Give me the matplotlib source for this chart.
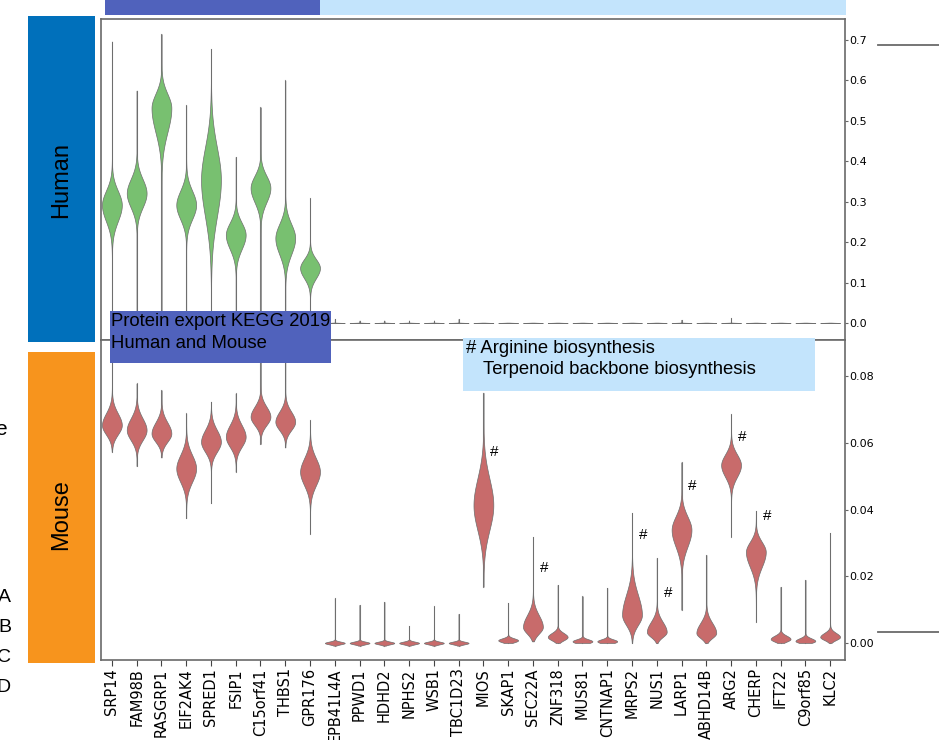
import numpy as np
import matplotlib
matplotlib.use("Agg")
import matplotlib.pyplot as plt
from matplotlib.patches import Rectangle

genes = ["SRP14", "FAM98B", "RASGRP1", "EIF2AK4", "SPRED1", "FSIP1", "C15orf41",
         "THBS1", "GPR176", "EPB41L4A", "PPWD1", "HDHD2", "NPHS2", "WSB1", "TBC1D23",
         "MIOS", "SKAP1", "SEC22A", "ZNF318", "MUS81", "CNTNAP1", "MRPS2", "NUS1",
         "LARP1", "ABHD14B", "ARG2", "CHERP", "IFT22", "C9orf85", "KLC2"]

# human violins: min, max, mode, spread below / above mode
h_lo = [0.0] * 30
h_hi = [0.696, 0.575, 0.715, 0.539, 0.678, 0.411, 0.534, 0.600, 0.309,
        0.010, 0.006, 0.006, 0.006, 0.006, 0.010, 0.001, 0.001, 0.001, 0.001,
        0.001, 0.001, 0.001, 0.001, 0.008, 0.001, 0.012, 0.001, 0.001, 0.001, 0.001]
h_peak = [0.292, 0.321, 0.532, 0.292, 0.354, 0.218, 0.334, 0.210, 0.136] + [0.0] * 21
h_slo = [0.040, 0.035, 0.060, 0.035, 0.090, 0.035, 0.035, 0.040, 0.025] + [0.0005] * 21
h_shi = [0.035, 0.035, 0.035, 0.035, 0.080, 0.030, 0.030, 0.035, 0.022] + [0.0005] * 21

# mouse violins
m_lo = [0.0573, 0.0530, 0.0556, 0.0374, 0.0419, 0.0513, 0.0596, 0.0586, 0.0327,
        -0.0008, -0.0008, -0.0008, -0.0008, -0.0008, -0.0008,
        0.0168, 0.0, 0.0005, 0.0, 0.0, 0.0, 0.0, 0.0, 0.0099, 0.0, 0.0318, 0.0063,
        0.0, 0.0, 0.0]
m_hi = [0.0880, 0.0778, 0.0758, 0.0688, 0.0723, 0.0748, 0.0860, 0.0860, 0.0668,
        0.0134, 0.0114, 0.0123, 0.0051, 0.0110, 0.0087,
        0.0750, 0.0120, 0.0318, 0.0174, 0.0140, 0.0165, 0.0390, 0.0255, 0.0542,
        0.0264, 0.0686, 0.0396, 0.0168, 0.0189, 0.0330]
m_peak = [0.0653, 0.0638, 0.0628, 0.0523, 0.0603, 0.0618, 0.0678, 0.0663, 0.0513,
          0.0, 0.0, 0.0, 0.0, 0.0, 0.0,
          0.0413, 0.0008, 0.0048, 0.0018, 0.0005, 0.0005, 0.0084, 0.0033, 0.0339,
          0.0030, 0.0533, 0.0273, 0.0012, 0.0006, 0.0018]
m_slo = [0.0028, 0.0030, 0.0025, 0.0040, 0.0030, 0.0030, 0.0025, 0.0025, 0.0040,
         0.0004, 0.0004, 0.0004, 0.0004, 0.0004, 0.0004,
         0.0075, 0.0006, 0.0020, 0.0010, 0.0006, 0.0006, 0.0030, 0.0015, 0.0050,
         0.0015, 0.0035, 0.0045, 0.0008, 0.0006, 0.0009]
m_shi = [0.0035, 0.0035, 0.0033, 0.0040, 0.0035, 0.0035, 0.0030, 0.0030, 0.0040,
         0.0004, 0.0004, 0.0004, 0.0004, 0.0004, 0.0004,
         0.0080, 0.0006, 0.0035, 0.0012, 0.0006, 0.0006, 0.0060, 0.0030, 0.0040,
         0.0030, 0.0032, 0.0030, 0.0010, 0.0008, 0.0012]

# genes marked with '#' and the height of the mark
hash_genes = ["MIOS", "SEC22A", "MRPS2", "NUS1", "LARP1", "ARG2", "CHERP"]
hash_y = [0.0572, 0.0225, 0.0324, 0.0150, 0.0470, 0.0617, 0.0380]

W, H = 939, 740
GREEN = "#78c070"
RED = "#c86b6b"
DARKBLUE = "#5062bc"
LIGHTBLUE = "#c3e4fc"
ANNOT_FONT = ["Liberation Sans", "DejaVu Sans"]


def fx(x):
    return x / W


def fy(y):
    return 1 - y / H


def box(fig, x0, y0, x1, y1, color):
    fig.add_artist(Rectangle((fx(x0), fy(y1)), fx(x1) - fx(x0), fy(y0) - fy(y1),
                             transform=fig.transFigure, facecolor=color,
                             edgecolor="none", zorder=2))


def draw_violin(ax, x, lo, hi, peak, s_lo, s_hi, color):
    ys = np.linspace(lo, hi, 400)
    s = np.where(ys < peak, s_lo, s_hi)
    w = np.exp(-0.5 * ((ys - peak) / s) ** 2)
    w = 0.4 * w / w.max()
    ax.plot([x, x], [lo, hi], color="#9a9a9a", lw=0.8, zorder=1)
    ax.fill_betweenx(ys, x - w, x + w, facecolor=color, edgecolor="#6e6e6e",
                     lw=0.5, zorder=2)


fig = plt.figure(figsize=(W / 100, H / 100), dpi=100)

ax_h = fig.add_axes([fx(101), fy(340), fx(845) - fx(101), fy(19) - fy(340)])
ax_m = fig.add_axes([fx(101), fy(660), fx(845) - fx(101), fy(340) - fy(660)], sharex=ax_h)

xs = np.arange(len(genes))
for i in xs:
    draw_violin(ax_h, i, h_lo[i], h_hi[i], h_peak[i], h_slo[i], h_shi[i], GREEN)
    draw_violin(ax_m, i, m_lo[i], m_hi[i], m_peak[i], m_slo[i], m_shi[i], RED)

for g, yv in zip(hash_genes, hash_y):
    ax_m.text(genes.index(g) + 0.45, yv, "#", fontsize=11, ha="center", va="center",
              family=ANNOT_FONT)

ax_h.set_xlim(-0.44, 29.6)
ax_h.set_ylim(-0.042, 0.752)
ax_m.set_ylim(-0.0051, 0.0908)

ax_h.set_yticks(np.arange(0, 0.71, 0.1))
ax_h.set_yticklabels([f"{v:.1f}" for v in np.arange(0, 0.71, 0.1)])
ax_m.set_yticks(np.arange(0, 0.081, 0.02))
ax_m.set_yticklabels([f"{v:.2f}" for v in np.arange(0, 0.081, 0.02)])

for ax in (ax_h, ax_m):
    ax.tick_params(axis="y", left=False, right=True, labelleft=False, labelright=True,
                   length=2, pad=1, labelsize=8, color="#666666")
    for sp in ax.spines.values():
        sp.set_color("#6a6a6a")
        sp.set_linewidth(1.2)

ax_h.tick_params(axis="x", bottom=False, labelbottom=False)
ax_m.set_xticks(xs)
ax_m.set_xticklabels(genes, rotation=90, fontsize=10.5)
ax_m.tick_params(axis="x", length=4, pad=2, color="#444444")

# species blocks on the left
box(fig, 28, 16, 95, 342, "#0070bb")
box(fig, 28, 352, 95, 663, "#f7941d")
fig.text(fx(61), fy(180), "Human", rotation=90, ha="center", va="center",
         fontsize=17, family=ANNOT_FONT, zorder=3)
fig.text(fx(61), fy(515), "Mouse", rotation=90, ha="center", va="center",
         fontsize=17, family=ANNOT_FONT, zorder=3)

# pathway annotation boxes
box(fig, 110, 311, 331, 363, DARKBLUE)
fig.text(fx(111), fy(322), "Protein export KEGG 2019", ha="left", va="center",
         fontsize=13.3, family=ANNOT_FONT, zorder=3)
fig.text(fx(111), fy(343), "Human and Mouse", ha="left", va="center",
         fontsize=13.3, family=ANNOT_FONT, zorder=3)

box(fig, 463, 338, 815, 391, LIGHTBLUE)
fig.text(fx(466), fy(348), "# Arginine biosynthesis", ha="left", va="center",
         fontsize=13.3, family=ANNOT_FONT, zorder=3)
fig.text(fx(483), fy(370), "Terpenoid backbone biosynthesis", ha="left", va="center",
         fontsize=13.3, family=ANNOT_FONT, zorder=3)

# bits of neighbouring panels cut off by the crop
box(fig, 105, -5, 320, 15, DARKBLUE)
box(fig, 320, -5, 846, 15, LIGHTBLUE)
for yy in (45, 632):
    fig.add_artist(plt.Line2D([fx(878), fx(945)], [fy(yy), fy(yy)],
                              transform=fig.transFigure, color="#6a6a6a", lw=1.3))
fig.text(fx(7), fy(430), "e", ha="right", va="center", fontsize=15, family=ANNOT_FONT)
for lab, yy in zip(["A", "B", "C", "D"], [598, 628, 658, 688]):
    fig.text(fx(11), fy(yy), lab, ha="right", va="center", fontsize=14, family=ANNOT_FONT)

fig.savefig("out.png", dpi=100)
